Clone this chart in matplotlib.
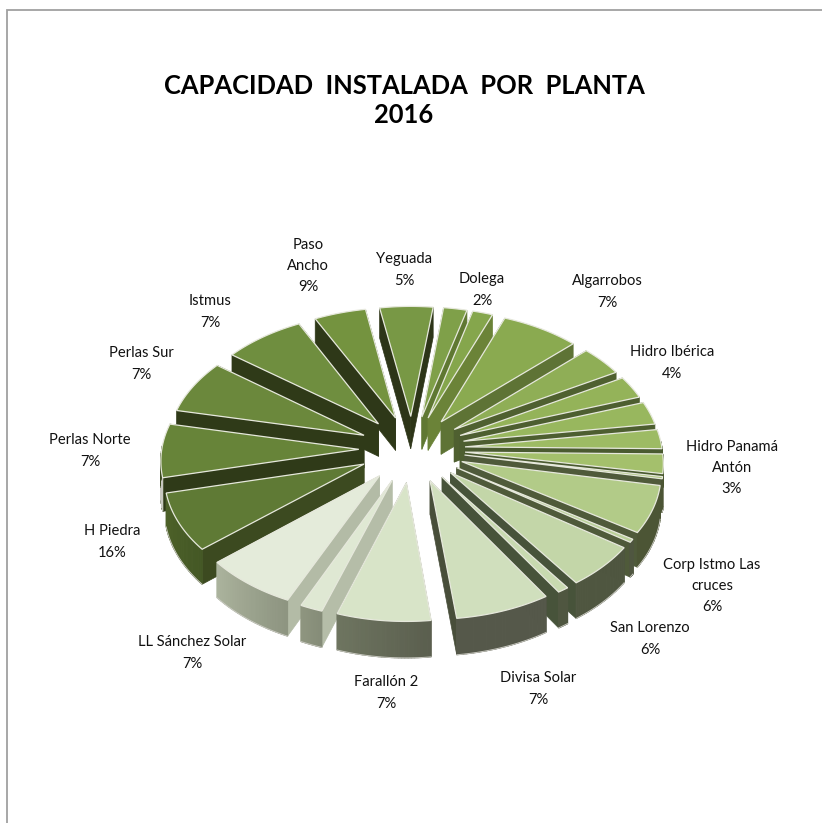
import numpy as np
import matplotlib
matplotlib.use('Agg')
import matplotlib.pyplot as plt
from matplotlib.colors import to_rgb

# slices clockwise, starting from H Piedra
plantas = ['H Piedra', 'Perlas Norte', 'Perlas Sur', 'Istmus', 'Paso\nAncho', 'Yeguada', '', 'Dolega',
           'Algarrobos', 'Hidro Ibérica', '', '', '', 'Hidro Panamá\nAntón', '', 'Corp Istmo Las\ncruces', '',
           'San Lorenzo', '', 'Divisa Solar', 'Farallón 2', '', 'LL Sánchez Solar']
valores = [27, 25, 25, 26, 16.6, 17, 7.5, 6.5, 25, 14, 10.5, 10.7, 9, 9, 1, 22, 1.5, 20, 3, 25.5, 25, 6, 25]
porcentajes = ['16%', '7%', '7%', '7%', '9%', '5%', '', '2%', '7%', '4%', '', '', '', '3%', '', '6%', '',
               '6%', '', '7%', '7%', '', '7%']

color_top = ['#5f7a35', '#678439', '#6b883c', '#6f8e3f', '#74933f', '#789845', '#7fa049', '#85a64c',
             '#8aaa50', '#8fae56', '#94b359', '#98b75e', '#9dbb64', '#a4c06c', '#aac478', '#b2cb88',
             '#bad09a', '#c3d6a8', '#c8dab0', '#d0dfbd', '#d8e4c8', '#dfe8d3', '#e4ebda']
color_cut = ['#3c4a20', '#2f3a18', '#2f3a18', '#2f3a18', '#2e3818', '#2d3518', '#5f7832', '#6b8338',
             '#5e7335', '#4f6030', '#4d5e30', '#4d5e30', '#4a5a30', '#4a5a30', '#4f5a3a', '#4f5a3a',
             '#4f5a3a', '#47533a', '#47533a', '#484e3a', '#6a705c', '#b5bda8', '#b3bba6']
rim_left = ['#4e6229', '#3c4a20', '#3c4a20', '#3c4a20', '#3c4a20', '#3c4a20', '#5f7832', '#6b8338',
            '#5e7335', '#4f6030', '#4d5e30', '#4d5e30', '#4a5a30', '#4a5a30', '#4c5535', '#4c5535',
            '#4f5640', '#4f5640', '#4f5640', '#55584a', '#6e7560', '#8f9680', '#abb39d']
rim_right = ['#445825', '#3c4a20', '#3c4a20', '#3c4a20', '#3c4a20', '#3c4a20', '#5f7832', '#6b8338',
             '#5e7335', '#4f6030', '#4d5e30', '#4d5e30', '#4a5a30', '#4a5a30', '#4c5535', '#4c5535',
             '#4f5640', '#4f5640', '#4f5640', '#55584a', '#5a5e4e', '#858c78', '#8d9480']

# label centres in pixels, same order as plantas
label_x = [112, 90, 141, 210, 308, 404, 0, 482, 607, 672, 0, 0, 0, 732, 0, 712, 0, 650, 0, 538, 386, 0, 192]
label_y = [542, 451, 364, 312, 266, 270, 0, 290, 292, 363, 0, 0, 0, 468, 0, 586, 0, 639, 0, 689, 693, 0, 653]

start_angle = 229.7
explode = 0.27
cx, cy = 412, 449
sx, sy = 197, 123
persp = 0.075
depth = 33


def project(X, Y):
    p = 1 / (1 + persp * Y)
    return cx + X * sx * p, cy - Y * sy * p, depth * p


fig = plt.figure(figsize=(8.22, 8.23), dpi=100)
ax = fig.add_axes([0, 0, 1, 1])
ax.set_xlim(0, 822)
ax.set_ylim(823, 0)
ax.axis('off')

# chart frame
ax.plot([7, 7, 822], [823, 10, 10], color='#a0a0a0', lw=1.3, solid_joinstyle='miter')

vals = np.array(valores, dtype=float)
widths = vals / vals.sum() * 2 * np.pi
starts = np.radians(start_angle) + np.concatenate(([0], np.cumsum(widths)[:-1]))
mids = starts + widths / 2

# back slices first so the front ones cover them
for i in np.argsort(-np.cos(mids)):
    a = np.linspace(starts[i], starts[i] + widths[i], 30)
    tx, ty = explode * np.sin(mids[i]), explode * np.cos(mids[i])
    px, py, pd = project(tx, ty)
    rx, ry, rd = project(tx + np.sin(a), ty + np.cos(a))

    # cut faces
    for k in (0, -1):
        ax.fill([px, rx[k], rx[k], px], [py, ry[k], ry[k] + rd[k], py + pd],
                facecolor=color_cut[i], edgecolor=color_cut[i], lw=0.5)

    # outer rim, shaded along the arc, only the part facing the viewer
    front = np.cos(a) < 0.05
    if front.sum() > 2:
        order = np.argsort(rx[front])
        xs, ys, ds = rx[front][order], ry[front][order], rd[front][order]
        c0, c1 = np.array(to_rgb(rim_left[i])), np.array(to_rgb(rim_right[i]))
        for j in range(len(xs) - 1):
            col = c0 + (c1 - c0) * j / (len(xs) - 1)
            ax.fill([xs[j], xs[j + 1], xs[j + 1], xs[j]],
                    [ys[j], ys[j + 1], ys[j + 1] + ds[j + 1], ys[j] + ds[j]],
                    facecolor=col, edgecolor=col, lw=0.8)
        # same zorder as the patches, so later tops cover it
        ax.plot(xs, ys + ds, color='#c8c8c0', lw=0.7, zorder=1)

    # top face
    ax.fill(np.concatenate(([px], rx)), np.concatenate(([py], ry)),
            facecolor=color_top[i], edgecolor='#e6e8dc', lw=0.9, joinstyle='miter')

for name, pct, x, y in zip(plantas, porcentajes, label_x, label_y):
    if name:
        ax.text(x, y, name + '\n' + pct, ha='center', va='center', fontsize=10.6, color='#111111',
                linespacing=1.65, family='Lato')

ax.text(404, 100, 'CAPACIDAD  INSTALADA  POR  PLANTA\n2016', ha='center', va='center', fontsize=18.4,
        fontweight='bold', color='black', linespacing=1.25, family='Lato')

plt.savefig('out.png', dpi=100)
